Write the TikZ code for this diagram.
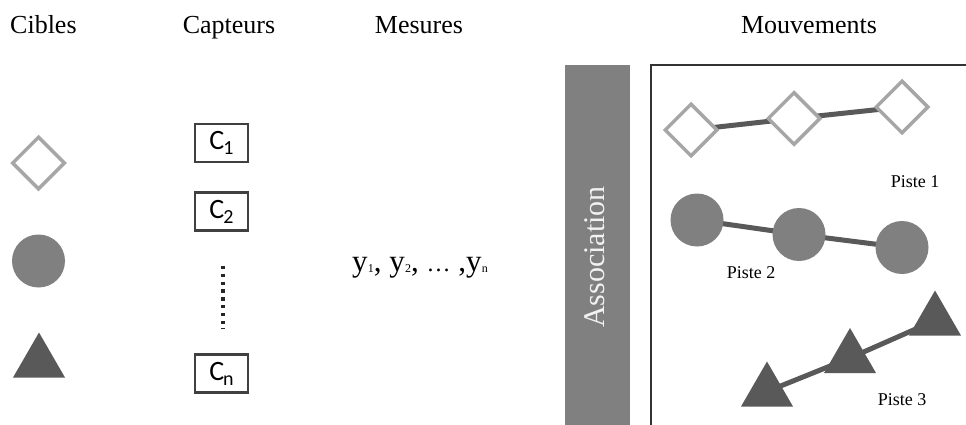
\documentclass[tikz,border=0pt]{standalone}
\usepackage{fontspec}
\setmainfont{Liberation Serif}
\newfontfamily\cfont{Carlito}
\usetikzlibrary{shapes.geometric,backgrounds}
\definecolor{lgray}{HTML}{A6A6A6}
\definecolor{mgray}{HTML}{808080}
\definecolor{dgray}{HTML}{595959}
\definecolor{bgray}{HTML}{404040}
\newcommand\ysub[1]{y\kern0.3pt\raisebox{-1pt}{\fontsize{12}{12}\selectfont #1}}
\newcommand\csub[1]{C\kern-1pt\raisebox{-5pt}{\fontsize{20}{20}\selectfont #1}}
\tikzset{
  title/.style={font=\fontsize{26}{30}\selectfont, inner sep=0, anchor=base},
  diam/.style={diamond, draw=lgray, line width=3.5pt, fill=white, minimum size=53pt, inner sep=0, aspect=1},
  disc/.style={circle, fill=mgray, minimum size=53pt, inner sep=0},
  tri/.style={regular polygon, regular polygon sides=3, fill=dgray, minimum size=60pt, inner sep=0},
  capbox/.style={draw=bgray, line width=2.5pt, minimum width=53pt, minimum height=38pt, inner sep=0, font=\cfont\fontsize{28}{28}\selectfont},
  link/.style={draw=dgray, line width=5pt},
  piste/.style={font=\fontsize{18}{20}\selectfont, inner sep=0},
}
\begin{document}
\begin{tikzpicture}[x=1pt,y=-1pt]
\useasboundingbox (0,0) rectangle (966,425);
% titles
\node[title, anchor=base west] (tcib) at (10,34) {Cibles};
\node[title] (tcap) at (229,34) {Capteurs};
\node[title] (tmes) at (419,34) {Mesures};
\node[title] (tmou) at (809,34) {Mouvements};
% targets
\node[diam] (ld) at (38.5,163) {};
\node[disc] (lc) at (38.5,261) {};
\node[tri] (lt) at (39,362.5) {};
% sensors
\node[capbox] (c1) at (221.5,143) {\csub{1}};
\node[capbox] (c2) at (221.5,211.5) {\csub{2}};
\node[capbox] (cn) at (221.5,373.5) {\csub{n}};
\coordinate (dtop) at (223,266);
\coordinate (dbot) at (223,329);
\draw[black!85, line width=4pt, dash pattern=on 3.4pt off 4.4pt] (dtop) -- (dbot);
% measures
\node[font=\fontsize{31}{32}\selectfont, inner sep=0] (ys) at (420,268) {\ysub{1}, \ysub{2}, \fontsize{24}{24}\selectfont…\fontsize{31}{32}\selectfont{} ,\ysub{n}};
% association bar
\fill[mgray] (565,65) rectangle (630,430);
\node[rotate=90, text=white!95!black, font=\fontsize{30}{32}\selectfont, inner sep=0] (assoc) at (595,257) {Association};
% movements frame
\draw[black!80, line width=1.3pt] (651,432) -- (651,65) -- (975,65);
% tracks
\node[diam] (d1) at (691,130) {};
\node[diam] (d2) at (794,118.5) {};
\node[diam] (d3) at (902,107) {};
\node[disc] (k1) at (697,220) {};
\node[disc] (k2) at (799,234.5) {};
\node[disc] (k3) at (902,247.5) {};
\node[tri] (t1) at (767,391.5) {};
\node[tri] (t2) at (850,358) {};
\node[tri] (t3) at (935,320.5) {};
\begin{scope}[on background layer]
\draw[link] (d1.center) -- (d2.center) -- (d3.center);
\draw[link] (k1.center) -- (k2.center) -- (k3.center);
\draw[link] (t1.center) -- (t2.center) -- (t3.center);
\end{scope}
\node[piste] (p1) at (915,182) {Piste 1};
\node[piste] (p2) at (751,273) {Piste 2};
\node[piste] (p3) at (902,400) {Piste 3};
\end{tikzpicture}
\end{document}
